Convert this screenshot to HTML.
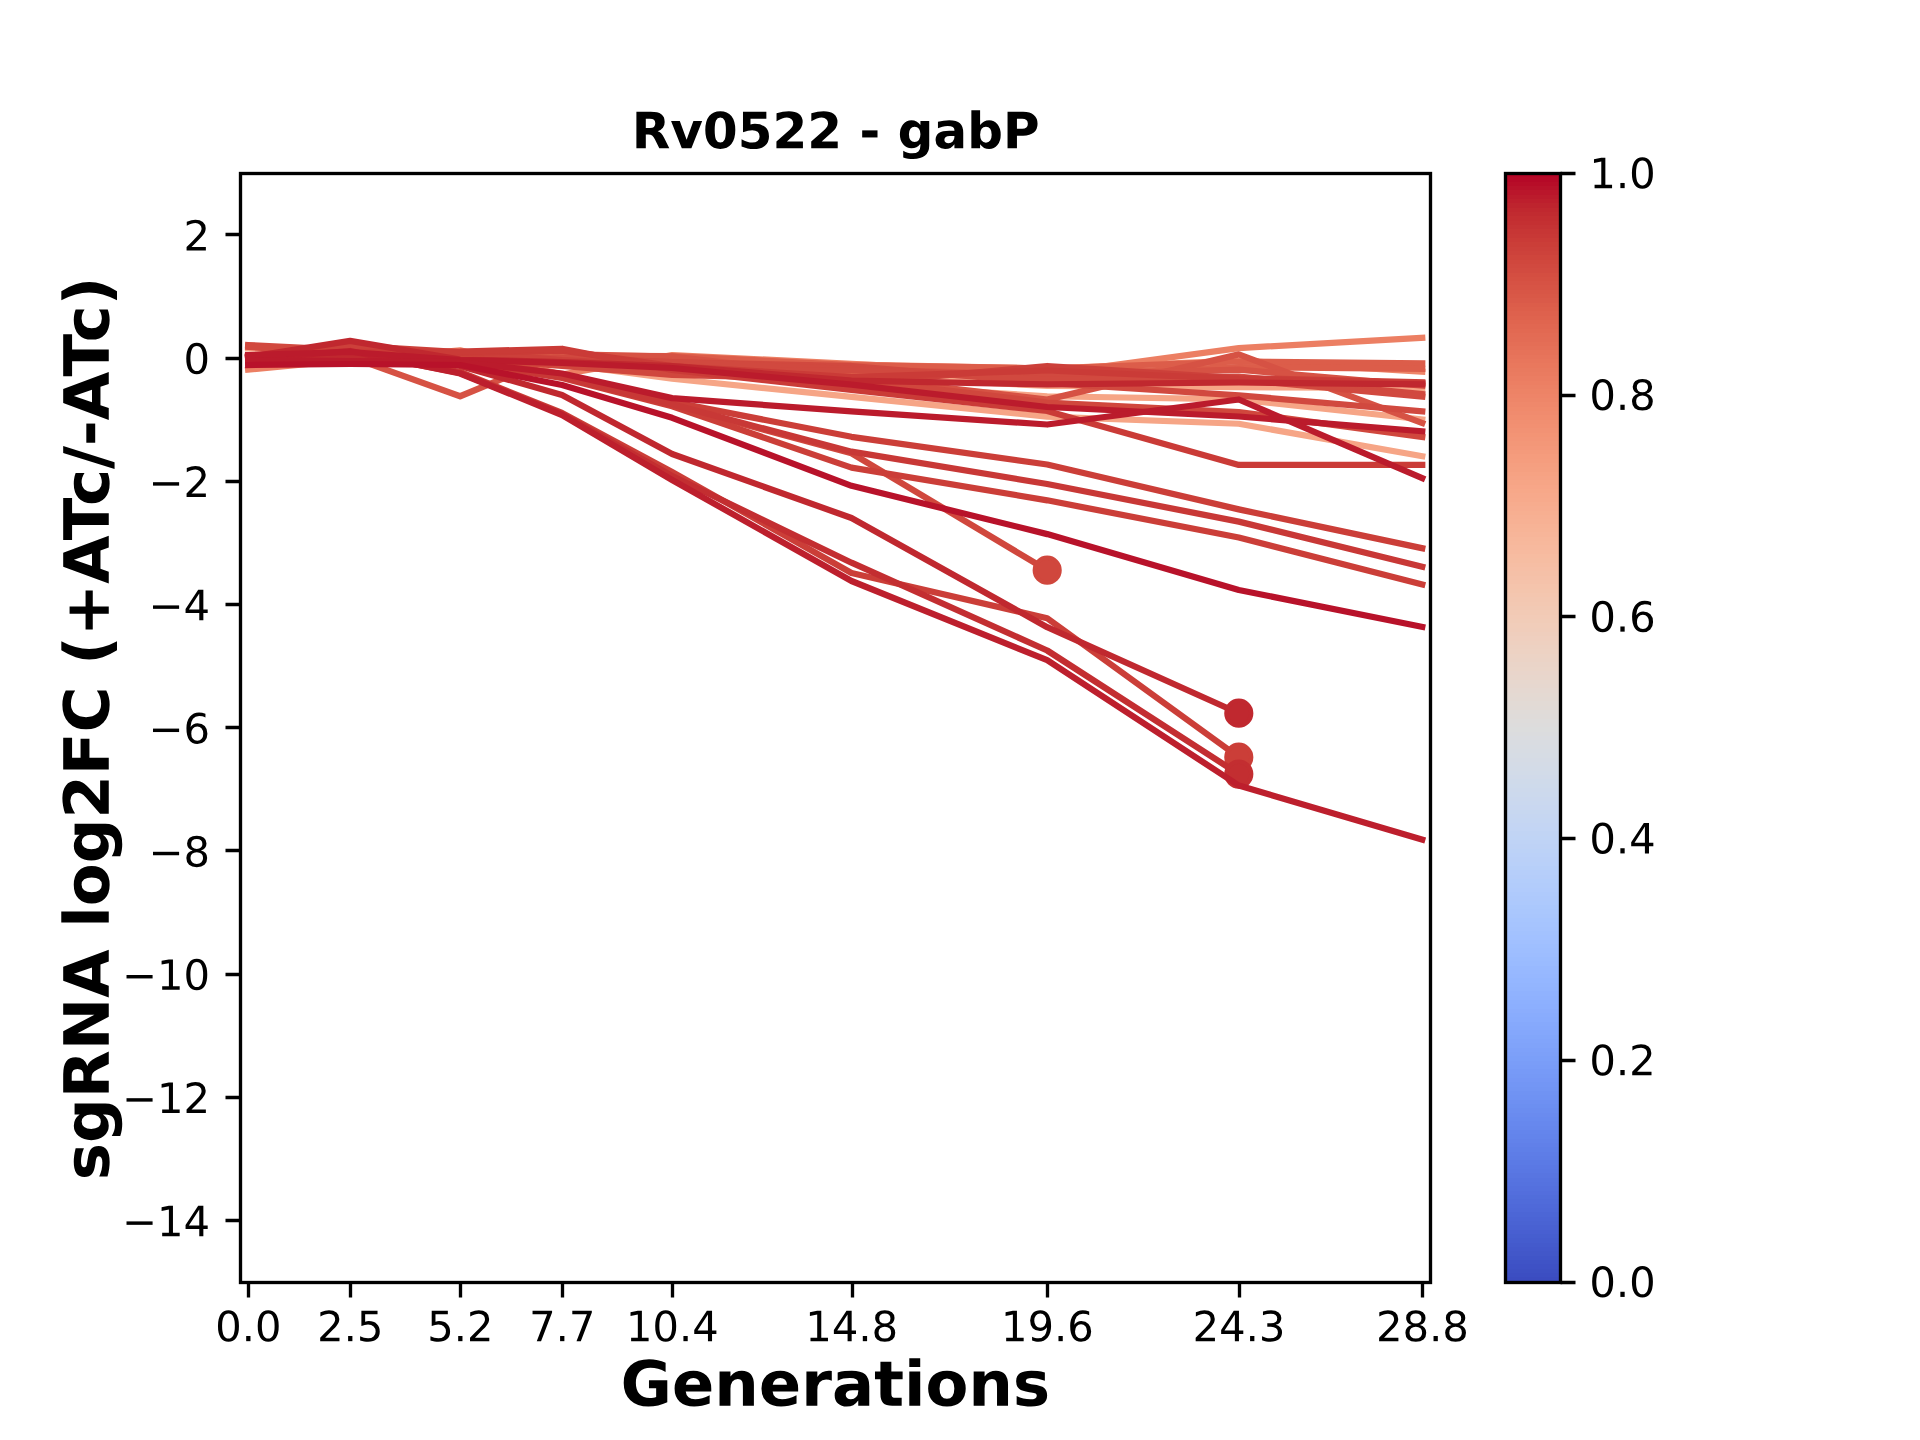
<!DOCTYPE html>
<html lang="en">
<head>
<meta charset="utf-8">
<title>Rv0522 - gabP</title>
<style>
html,body{margin:0;padding:0;background:#ffffff;}
body{width:1920px;height:1440px;overflow:hidden;font-family:"Liberation Sans",sans-serif;}
svg{display:block;position:absolute;left:0;top:0;}
#frame rect,#frame path{stroke-linejoin:miter;stroke-linecap:butt;}
</style>
</head>
<body>
<svg width="1920" height="1440" viewBox="0 0 460.8 345.6" role="img" aria-label="Rv0522 - gabP: sgRNA log2FC (+ATc/-ATc) versus Generations">
<defs>
<style type="text/css">*{stroke-linejoin: round; stroke-linecap: butt}</style>
</defs>
<g id="figure_1">
<g id="patch_1">
<path d="M 0 345.6 
L 460.8 345.6 
L 460.8 0 
L 0 0 
z
" style="fill: #ffffff"/>
</g>
<g id="axes_1">
<g id="patch_2">
<path d="M 57.6 307.584 
L 343.296 307.584 
L 343.296 41.472 
L 57.6 41.472 
z
" style="fill: #ffffff"/>
</g>
<g id="matplotlib.axis_1">
<g id="xtick_1">
<g id="text_1"><title>0.0</title><g transform="translate(0.048 -0.3) translate(51.605259 322.182437) scale(0.1 -0.1)">
<defs>
<path id="DejaVuSans-30" d="M 2034 4250 
Q 1547 4250 1301 3770 
Q 1056 3291 1056 2328 
Q 1056 1369 1301 889 
Q 1547 409 2034 409 
Q 2525 409 2770 889 
Q 3016 1369 3016 2328 
Q 3016 3291 2770 3770 
Q 2525 4250 2034 4250 
z
M 2034 4750 
Q 2819 4750 3233 4129 
Q 3647 3509 3647 2328 
Q 3647 1150 3233 529 
Q 2819 -91 2034 -91 
Q 1250 -91 836 529 
Q 422 1150 422 2328 
Q 422 3509 836 4129 
Q 1250 4750 2034 4750 
z
" transform="scale(0.015625)"/>
<path id="DejaVuSans-2e" d="M 684 794 
L 1344 794 
L 1344 0 
L 684 0 
L 684 794 
z
" transform="scale(0.015625)"/>
</defs>
<use href="#DejaVuSans-30"/>
<use href="#DejaVuSans-2e" transform="translate(63.623047 0)"/>
<use href="#DejaVuSans-30" transform="translate(95.410156 0)"/>
</g>
</g>
</g>
<g id="xtick_2">
<g id="text_2"><title>2.5</title><g transform="translate(0.048 -0.3) translate(76.065533 322.182437) scale(0.1 -0.1)">
<defs>
<path id="DejaVuSans-32" d="M 1228 531 
L 3431 531 
L 3431 0 
L 469 0 
L 469 531 
Q 828 903 1448 1529 
Q 2069 2156 2228 2338 
Q 2531 2678 2651 2914 
Q 2772 3150 2772 3378 
Q 2772 3750 2511 3984 
Q 2250 4219 1831 4219 
Q 1534 4219 1204 4116 
Q 875 4013 500 3803 
L 500 4441 
Q 881 4594 1212 4672 
Q 1544 4750 1819 4750 
Q 2544 4750 2975 4387 
Q 3406 4025 3406 3419 
Q 3406 3131 3298 2873 
Q 3191 2616 2906 2266 
Q 2828 2175 2409 1742 
Q 1991 1309 1228 531 
z
" transform="scale(0.015625)"/>
<path id="DejaVuSans-35" d="M 691 4666 
L 3169 4666 
L 3169 4134 
L 1269 4134 
L 1269 2991 
Q 1406 3038 1543 3061 
Q 1681 3084 1819 3084 
Q 2600 3084 3056 2656 
Q 3513 2228 3513 1497 
Q 3513 744 3044 326 
Q 2575 -91 1722 -91 
Q 1428 -91 1123 -41 
Q 819 9 494 109 
L 494 744 
Q 775 591 1075 516 
Q 1375 441 1709 441 
Q 2250 441 2565 725 
Q 2881 1009 2881 1497 
Q 2881 1984 2565 2268 
Q 2250 2553 1709 2553 
Q 1456 2553 1204 2497 
Q 953 2441 691 2322 
L 691 4666 
z
" transform="scale(0.015625)"/>
</defs>
<use href="#DejaVuSans-32"/>
<use href="#DejaVuSans-2e" transform="translate(63.623047 0)"/>
<use href="#DejaVuSans-35" transform="translate(95.410156 0)"/>
</g>
</g>
</g>
<g id="xtick_3">
<g id="text_3"><title>5.2</title><g transform="translate(0.048 -0.3) translate(102.482629 322.182437) scale(0.1 -0.1)">
<use href="#DejaVuSans-35"/>
<use href="#DejaVuSans-2e" transform="translate(63.623047 0)"/>
<use href="#DejaVuSans-32" transform="translate(95.410156 0)"/>
</g>
</g>
</g>
<g id="xtick_4">
<g id="text_4"><title>7.7</title><g transform="translate(0.048 -0.3) translate(126.942903 322.182437) scale(0.1 -0.1)">
<defs>
<path id="DejaVuSans-37" d="M 525 4666 
L 3525 4666 
L 3525 4397 
L 1831 0 
L 1172 0 
L 2766 4134 
L 525 4134 
L 525 4666 
z
" transform="scale(0.015625)"/>
</defs>
<use href="#DejaVuSans-37"/>
<use href="#DejaVuSans-2e" transform="translate(63.623047 0)"/>
<use href="#DejaVuSans-37" transform="translate(95.410156 0)"/>
</g>
</g>
</g>
<g id="xtick_5">
<g id="text_5"><title>10.4</title><g transform="translate(0.048 -0.3) translate(150.178749 322.182437) scale(0.1 -0.1)">
<defs>
<path id="DejaVuSans-31" d="M 794 531 
L 1825 531 
L 1825 4091 
L 703 3866 
L 703 4441 
L 1819 4666 
L 2450 4666 
L 2450 531 
L 3481 531 
L 3481 0 
L 794 0 
L 794 531 
z
" transform="scale(0.015625)"/>
<path id="DejaVuSans-34" d="M 2419 4116 
L 825 1625 
L 2419 1625 
L 2419 4116 
z
M 2253 4666 
L 3047 4666 
L 3047 1625 
L 3713 1625 
L 3713 1100 
L 3047 1100 
L 3047 0 
L 2419 0 
L 2419 1100 
L 313 1100 
L 313 1709 
L 2253 4666 
z
" transform="scale(0.015625)"/>
</defs>
<use href="#DejaVuSans-31"/>
<use href="#DejaVuSans-30" transform="translate(63.623047 0)"/>
<use href="#DejaVuSans-2e" transform="translate(127.246094 0)"/>
<use href="#DejaVuSans-34" transform="translate(159.033203 0)"/>
</g>
</g>
</g>
<g id="xtick_6">
<g id="text_6"><title>14.8</title><g transform="translate(0.048 -0.3) translate(193.228831 322.182437) scale(0.1 -0.1)">
<defs>
<path id="DejaVuSans-38" d="M 2034 2216 
Q 1584 2216 1326 1975 
Q 1069 1734 1069 1313 
Q 1069 891 1326 650 
Q 1584 409 2034 409 
Q 2484 409 2743 651 
Q 3003 894 3003 1313 
Q 3003 1734 2745 1975 
Q 2488 2216 2034 2216 
z
M 1403 2484 
Q 997 2584 770 2862 
Q 544 3141 544 3541 
Q 544 4100 942 4425 
Q 1341 4750 2034 4750 
Q 2731 4750 3128 4425 
Q 3525 4100 3525 3541 
Q 3525 3141 3298 2862 
Q 3072 2584 2669 2484 
Q 3125 2378 3379 2068 
Q 3634 1759 3634 1313 
Q 3634 634 3220 271 
Q 2806 -91 2034 -91 
Q 1263 -91 848 271 
Q 434 634 434 1313 
Q 434 1759 690 2068 
Q 947 2378 1403 2484 
z
M 1172 3481 
Q 1172 3119 1398 2916 
Q 1625 2713 2034 2713 
Q 2441 2713 2670 2916 
Q 2900 3119 2900 3481 
Q 2900 3844 2670 4047 
Q 2441 4250 2034 4250 
Q 1625 4250 1398 4047 
Q 1172 3844 1172 3481 
z
" transform="scale(0.015625)"/>
</defs>
<use href="#DejaVuSans-31"/>
<use href="#DejaVuSans-34" transform="translate(63.623047 0)"/>
<use href="#DejaVuSans-2e" transform="translate(127.246094 0)"/>
<use href="#DejaVuSans-38" transform="translate(159.033203 0)"/>
</g>
</g>
</g>
<g id="xtick_7">
<g id="text_7"><title>19.6</title><g transform="translate(0.048 -0.3) translate(240.192557 322.182437) scale(0.1 -0.1)">
<defs>
<path id="DejaVuSans-39" d="M 703 97 
L 703 672 
Q 941 559 1184 500 
Q 1428 441 1663 441 
Q 2288 441 2617 861 
Q 2947 1281 2994 2138 
Q 2813 1869 2534 1725 
Q 2256 1581 1919 1581 
Q 1219 1581 811 2004 
Q 403 2428 403 3163 
Q 403 3881 828 4315 
Q 1253 4750 1959 4750 
Q 2769 4750 3195 4129 
Q 3622 3509 3622 2328 
Q 3622 1225 3098 567 
Q 2575 -91 1691 -91 
Q 1453 -91 1209 -44 
Q 966 3 703 97 
z
M 1959 2075 
Q 2384 2075 2632 2365 
Q 2881 2656 2881 3163 
Q 2881 3666 2632 3958 
Q 2384 4250 1959 4250 
Q 1534 4250 1286 3958 
Q 1038 3666 1038 3163 
Q 1038 2656 1286 2365 
Q 1534 2075 1959 2075 
z
" transform="scale(0.015625)"/>
<path id="DejaVuSans-36" d="M 2113 2584 
Q 1688 2584 1439 2293 
Q 1191 2003 1191 1497 
Q 1191 994 1439 701 
Q 1688 409 2113 409 
Q 2538 409 2786 701 
Q 3034 994 3034 1497 
Q 3034 2003 2786 2293 
Q 2538 2584 2113 2584 
z
M 3366 4563 
L 3366 3988 
Q 3128 4100 2886 4159 
Q 2644 4219 2406 4219 
Q 1781 4219 1451 3797 
Q 1122 3375 1075 2522 
Q 1259 2794 1537 2939 
Q 1816 3084 2150 3084 
Q 2853 3084 3261 2657 
Q 3669 2231 3669 1497 
Q 3669 778 3244 343 
Q 2819 -91 2113 -91 
Q 1303 -91 875 529 
Q 447 1150 447 2328 
Q 447 3434 972 4092 
Q 1497 4750 2381 4750 
Q 2619 4750 2861 4703 
Q 3103 4656 3366 4563 
z
" transform="scale(0.015625)"/>
</defs>
<use href="#DejaVuSans-31"/>
<use href="#DejaVuSans-39" transform="translate(63.623047 0)"/>
<use href="#DejaVuSans-2e" transform="translate(127.246094 0)"/>
<use href="#DejaVuSans-36" transform="translate(159.033203 0)"/>
</g>
</g>
</g>
<g id="xtick_8">
<g id="text_8"><title>24.3</title><g transform="translate(0.048 -0.3) translate(286.177872 322.182437) scale(0.1 -0.1)">
<defs>
<path id="DejaVuSans-33" d="M 2597 2516 
Q 3050 2419 3304 2112 
Q 3559 1806 3559 1356 
Q 3559 666 3084 287 
Q 2609 -91 1734 -91 
Q 1441 -91 1130 -33 
Q 819 25 488 141 
L 488 750 
Q 750 597 1062 519 
Q 1375 441 1716 441 
Q 2309 441 2620 675 
Q 2931 909 2931 1356 
Q 2931 1769 2642 2001 
Q 2353 2234 1838 2234 
L 1294 2234 
L 1294 2753 
L 1863 2753 
Q 2328 2753 2575 2939 
Q 2822 3125 2822 3475 
Q 2822 3834 2567 4026 
Q 2313 4219 1838 4219 
Q 1578 4219 1281 4162 
Q 984 4106 628 3988 
L 628 4550 
Q 988 4650 1302 4700 
Q 1616 4750 1894 4750 
Q 2613 4750 3031 4423 
Q 3450 4097 3450 3541 
Q 3450 3153 3228 2886 
Q 3006 2619 2597 2516 
z
" transform="scale(0.015625)"/>
</defs>
<use href="#DejaVuSans-32"/>
<use href="#DejaVuSans-34" transform="translate(63.623047 0)"/>
<use href="#DejaVuSans-2e" transform="translate(127.246094 0)"/>
<use href="#DejaVuSans-33" transform="translate(159.033203 0)"/>
</g>
</g>
</g>
<g id="xtick_9">
<g id="text_9"><title>28.8</title><g transform="translate(0.048 -0.3) translate(330.206366 322.182437) scale(0.1 -0.1)">
<use href="#DejaVuSans-32"/>
<use href="#DejaVuSans-38" transform="translate(63.623047 0)"/>
<use href="#DejaVuSans-2e" transform="translate(127.246094 0)"/>
<use href="#DejaVuSans-38" transform="translate(159.033203 0)"/>
</g>
</g>
</g>
<g id="text_10"><title>Generations</title><g transform="translate(0.036 0) translate(148.907766 337.359781) scale(0.15 -0.15)">
<defs>
<path id="DejaVuSans-Bold-47" d="M 4781 347 
Q 4331 128 3847 18 
Q 3363 -91 2847 -91 
Q 1681 -91 1000 561 
Q 319 1213 319 2328 
Q 319 3456 1012 4103 
Q 1706 4750 2913 4750 
Q 3378 4750 3804 4662 
Q 4231 4575 4609 4403 
L 4609 3438 
Q 4219 3659 3833 3768 
Q 3447 3878 3059 3878 
Q 2341 3878 1952 3476 
Q 1563 3075 1563 2328 
Q 1563 1588 1938 1184 
Q 2313 781 3003 781 
Q 3191 781 3352 804 
Q 3513 828 3641 878 
L 3641 1784 
L 2906 1784 
L 2906 2591 
L 4781 2591 
L 4781 347 
z
" transform="scale(0.015625)"/>
<path id="DejaVuSans-Bold-65" d="M 4031 1759 
L 4031 1441 
L 1416 1441 
Q 1456 1047 1700 850 
Q 1944 653 2381 653 
Q 2734 653 3104 758 
Q 3475 863 3866 1075 
L 3866 213 
Q 3469 63 3072 -14 
Q 2675 -91 2278 -91 
Q 1328 -91 801 392 
Q 275 875 275 1747 
Q 275 2603 792 3093 
Q 1309 3584 2216 3584 
Q 3041 3584 3536 3087 
Q 4031 2591 4031 1759 
z
M 2881 2131 
Q 2881 2450 2695 2645 
Q 2509 2841 2209 2841 
Q 1884 2841 1681 2658 
Q 1478 2475 1428 2131 
L 2881 2131 
z
" transform="scale(0.015625)"/>
<path id="DejaVuSans-Bold-6e" d="M 4056 2131 
L 4056 0 
L 2931 0 
L 2931 347 
L 2931 1631 
Q 2931 2084 2911 2256 
Q 2891 2428 2841 2509 
Q 2775 2619 2662 2680 
Q 2550 2741 2406 2741 
Q 2056 2741 1856 2470 
Q 1656 2200 1656 1722 
L 1656 0 
L 538 0 
L 538 3500 
L 1656 3500 
L 1656 2988 
Q 1909 3294 2193 3439 
Q 2478 3584 2822 3584 
Q 3428 3584 3742 3212 
Q 4056 2841 4056 2131 
z
" transform="scale(0.015625)"/>
<path id="DejaVuSans-Bold-72" d="M 3138 2547 
Q 2991 2616 2845 2648 
Q 2700 2681 2553 2681 
Q 2122 2681 1889 2404 
Q 1656 2128 1656 1613 
L 1656 0 
L 538 0 
L 538 3500 
L 1656 3500 
L 1656 2925 
Q 1872 3269 2151 3426 
Q 2431 3584 2822 3584 
Q 2878 3584 2943 3579 
Q 3009 3575 3134 3559 
L 3138 2547 
z
" transform="scale(0.015625)"/>
<path id="DejaVuSans-Bold-61" d="M 2106 1575 
Q 1756 1575 1579 1456 
Q 1403 1338 1403 1106 
Q 1403 894 1545 773 
Q 1688 653 1941 653 
Q 2256 653 2472 879 
Q 2688 1106 2688 1447 
L 2688 1575 
L 2106 1575 
z
M 3816 1997 
L 3816 0 
L 2688 0 
L 2688 519 
Q 2463 200 2181 54 
Q 1900 -91 1497 -91 
Q 953 -91 614 226 
Q 275 544 275 1050 
Q 275 1666 698 1953 
Q 1122 2241 2028 2241 
L 2688 2241 
L 2688 2328 
Q 2688 2594 2478 2717 
Q 2269 2841 1825 2841 
Q 1466 2841 1156 2769 
Q 847 2697 581 2553 
L 581 3406 
Q 941 3494 1303 3539 
Q 1666 3584 2028 3584 
Q 2975 3584 3395 3211 
Q 3816 2838 3816 1997 
z
" transform="scale(0.015625)"/>
<path id="DejaVuSans-Bold-74" d="M 1759 4494 
L 1759 3500 
L 2913 3500 
L 2913 2700 
L 1759 2700 
L 1759 1216 
Q 1759 972 1856 886 
Q 1953 800 2241 800 
L 2816 800 
L 2816 0 
L 1856 0 
Q 1194 0 917 276 
Q 641 553 641 1216 
L 641 2700 
L 84 2700 
L 84 3500 
L 641 3500 
L 641 4494 
L 1759 4494 
z
" transform="scale(0.015625)"/>
<path id="DejaVuSans-Bold-69" d="M 538 3500 
L 1656 3500 
L 1656 0 
L 538 0 
L 538 3500 
z
M 538 4863 
L 1656 4863 
L 1656 3950 
L 538 3950 
L 538 4863 
z
" transform="scale(0.015625)"/>
<path id="DejaVuSans-Bold-6f" d="M 2203 2784 
Q 1831 2784 1636 2517 
Q 1441 2250 1441 1747 
Q 1441 1244 1636 976 
Q 1831 709 2203 709 
Q 2569 709 2762 976 
Q 2956 1244 2956 1747 
Q 2956 2250 2762 2517 
Q 2569 2784 2203 2784 
z
M 2203 3584 
Q 3106 3584 3614 3096 
Q 4122 2609 4122 1747 
Q 4122 884 3614 396 
Q 3106 -91 2203 -91 
Q 1297 -91 786 396 
Q 275 884 275 1747 
Q 275 2609 786 3096 
Q 1297 3584 2203 3584 
z
" transform="scale(0.015625)"/>
<path id="DejaVuSans-Bold-73" d="M 3272 3391 
L 3272 2541 
Q 2913 2691 2578 2766 
Q 2244 2841 1947 2841 
Q 1628 2841 1473 2761 
Q 1319 2681 1319 2516 
Q 1319 2381 1436 2309 
Q 1553 2238 1856 2203 
L 2053 2175 
Q 2913 2066 3209 1816 
Q 3506 1566 3506 1031 
Q 3506 472 3093 190 
Q 2681 -91 1863 -91 
Q 1516 -91 1145 -36 
Q 775 19 384 128 
L 384 978 
Q 719 816 1070 734 
Q 1422 653 1784 653 
Q 2113 653 2278 743 
Q 2444 834 2444 1013 
Q 2444 1163 2330 1236 
Q 2216 1309 1875 1350 
L 1678 1375 
Q 931 1469 631 1722 
Q 331 1975 331 2491 
Q 331 3047 712 3315 
Q 1094 3584 1881 3584 
Q 2191 3584 2531 3537 
Q 2872 3491 3272 3391 
z
" transform="scale(0.015625)"/>
</defs>
<use href="#DejaVuSans-Bold-47"/>
<use href="#DejaVuSans-Bold-65" transform="translate(82.080078 0)"/>
<use href="#DejaVuSans-Bold-6e" transform="translate(149.902344 0)"/>
<use href="#DejaVuSans-Bold-65" transform="translate(221.09375 0)"/>
<use href="#DejaVuSans-Bold-72" transform="translate(288.916016 0)"/>
<use href="#DejaVuSans-Bold-61" transform="translate(338.232422 0)"/>
<use href="#DejaVuSans-Bold-74" transform="translate(405.712891 0)"/>
<use href="#DejaVuSans-Bold-69" transform="translate(453.515625 0)"/>
<use href="#DejaVuSans-Bold-6f" transform="translate(487.792969 0)"/>
<use href="#DejaVuSans-Bold-6e" transform="translate(556.494141 0)"/>
<use href="#DejaVuSans-Bold-73" transform="translate(627.685547 0)"/>
</g>
</g>
</g>
<g id="matplotlib.axis_2">
<g id="ytick_1">
<g id="text_11"><title>−14</title><g transform="translate(-0.192 0.084) translate(29.495313 296.599219) scale(0.1 -0.1)">
<defs>
<path id="DejaVuSans-2212" d="M 678 2272 
L 4684 2272 
L 4684 1741 
L 678 1741 
L 678 2272 
z
" transform="scale(0.015625)"/>
</defs>
<use href="#DejaVuSans-2212"/>
<use href="#DejaVuSans-31" transform="translate(83.789062 0)"/>
<use href="#DejaVuSans-34" transform="translate(147.412109 0)"/>
</g>
</g>
</g>
<g id="ytick_2">
<g id="text_12"><title>−12</title><g transform="translate(-0.192 0.084) translate(29.495313 267.031219) scale(0.1 -0.1)">
<use href="#DejaVuSans-2212"/>
<use href="#DejaVuSans-31" transform="translate(83.789062 0)"/>
<use href="#DejaVuSans-32" transform="translate(147.412109 0)"/>
</g>
</g>
</g>
<g id="ytick_3">
<g id="text_13"><title>−10</title><g transform="translate(-0.192 0.084) translate(29.495313 237.463219) scale(0.1 -0.1)">
<use href="#DejaVuSans-2212"/>
<use href="#DejaVuSans-31" transform="translate(83.789062 0)"/>
<use href="#DejaVuSans-30" transform="translate(147.412109 0)"/>
</g>
</g>
</g>
<g id="ytick_4">
<g id="text_14"><title>−8</title><g transform="translate(-0.192 0.084) translate(35.857813 207.895219) scale(0.1 -0.1)">
<use href="#DejaVuSans-2212"/>
<use href="#DejaVuSans-38" transform="translate(83.789062 0)"/>
</g>
</g>
</g>
<g id="ytick_5">
<g id="text_15"><title>−6</title><g transform="translate(-0.192 0.084) translate(35.857813 178.327219) scale(0.1 -0.1)">
<use href="#DejaVuSans-2212"/>
<use href="#DejaVuSans-36" transform="translate(83.789062 0)"/>
</g>
</g>
</g>
<g id="ytick_6">
<g id="text_16"><title>−4</title><g transform="translate(-0.192 0.084) translate(35.857813 148.759219) scale(0.1 -0.1)">
<use href="#DejaVuSans-2212"/>
<use href="#DejaVuSans-34" transform="translate(83.789062 0)"/>
</g>
</g>
</g>
<g id="ytick_7">
<g id="text_17"><title>−2</title><g transform="translate(-0.192 0.084) translate(35.857813 119.191219) scale(0.1 -0.1)">
<use href="#DejaVuSans-2212"/>
<use href="#DejaVuSans-32" transform="translate(83.789062 0)"/>
</g>
</g>
</g>
<g id="ytick_8">
<g id="text_18"><title>0</title><g transform="translate(-0.192 0.084) translate(44.2375 89.623219) scale(0.1 -0.1)">
<use href="#DejaVuSans-30"/>
</g>
</g>
</g>
<g id="ytick_9">
<g id="text_19"><title>2</title><g transform="translate(-0.192 0.084) translate(44.2375 60.055219) scale(0.1 -0.1)">
<use href="#DejaVuSans-32"/>
</g>
</g>
</g>
<g id="text_20"><title>sgRNA log2FC (+ATc/-ATc)</title><g transform="translate(-0.156 0.3) translate(26.258594 282.952219) rotate(-90) scale(0.15 -0.15)">
<defs>
<path id="DejaVuSans-Bold-67" d="M 2919 594 
Q 2688 288 2409 144 
Q 2131 0 1766 0 
Q 1125 0 706 504 
Q 288 1009 288 1791 
Q 288 2575 706 3076 
Q 1125 3578 1766 3578 
Q 2131 3578 2409 3434 
Q 2688 3291 2919 2981 
L 2919 3500 
L 4044 3500 
L 4044 353 
Q 4044 -491 3511 -936 
Q 2978 -1381 1966 -1381 
Q 1638 -1381 1331 -1331 
Q 1025 -1281 716 -1178 
L 716 -306 
Q 1009 -475 1290 -558 
Q 1572 -641 1856 -641 
Q 2406 -641 2662 -400 
Q 2919 -159 2919 353 
L 2919 594 
z
M 2181 2772 
Q 1834 2772 1640 2515 
Q 1447 2259 1447 1791 
Q 1447 1309 1634 1061 
Q 1822 813 2181 813 
Q 2531 813 2725 1069 
Q 2919 1325 2919 1791 
Q 2919 2259 2725 2515 
Q 2531 2772 2181 2772 
z
" transform="scale(0.015625)"/>
<path id="DejaVuSans-Bold-52" d="M 2297 2597 
Q 2675 2597 2839 2737 
Q 3003 2878 3003 3200 
Q 3003 3519 2839 3656 
Q 2675 3794 2297 3794 
L 1791 3794 
L 1791 2597 
L 2297 2597 
z
M 1791 1766 
L 1791 0 
L 588 0 
L 588 4666 
L 2425 4666 
Q 3347 4666 3776 4356 
Q 4206 4047 4206 3378 
Q 4206 2916 3982 2619 
Q 3759 2322 3309 2181 
Q 3556 2125 3751 1926 
Q 3947 1728 4147 1325 
L 4800 0 
L 3519 0 
L 2950 1159 
Q 2778 1509 2601 1637 
Q 2425 1766 2131 1766 
L 1791 1766 
z
" transform="scale(0.015625)"/>
<path id="DejaVuSans-Bold-4e" d="M 588 4666 
L 1931 4666 
L 3628 1466 
L 3628 4666 
L 4769 4666 
L 4769 0 
L 3425 0 
L 1728 3200 
L 1728 0 
L 588 0 
L 588 4666 
z
" transform="scale(0.015625)"/>
<path id="DejaVuSans-Bold-41" d="M 3419 850 
L 1538 850 
L 1241 0 
L 31 0 
L 1759 4666 
L 3194 4666 
L 4922 0 
L 3713 0 
L 3419 850 
z
M 1838 1716 
L 3116 1716 
L 2478 3572 
L 1838 1716 
z
" transform="scale(0.015625)"/>
<path id="DejaVuSans-Bold-20" transform="scale(0.015625)"/>
<path id="DejaVuSans-Bold-6c" d="M 538 4863 
L 1656 4863 
L 1656 0 
L 538 0 
L 538 4863 
z
" transform="scale(0.015625)"/>
<path id="DejaVuSans-Bold-32" d="M 1844 884 
L 3897 884 
L 3897 0 
L 506 0 
L 506 884 
L 2209 2388 
Q 2438 2594 2547 2791 
Q 2656 2988 2656 3200 
Q 2656 3528 2436 3728 
Q 2216 3928 1850 3928 
Q 1569 3928 1234 3808 
Q 900 3688 519 3450 
L 519 4475 
Q 925 4609 1322 4679 
Q 1719 4750 2100 4750 
Q 2938 4750 3402 4381 
Q 3866 4013 3866 3353 
Q 3866 2972 3669 2642 
Q 3472 2313 2841 1759 
L 1844 884 
z
" transform="scale(0.015625)"/>
<path id="DejaVuSans-Bold-46" d="M 588 4666 
L 3834 4666 
L 3834 3756 
L 1791 3756 
L 1791 2888 
L 3713 2888 
L 3713 1978 
L 1791 1978 
L 1791 0 
L 588 0 
L 588 4666 
z
" transform="scale(0.015625)"/>
<path id="DejaVuSans-Bold-43" d="M 4288 256 
Q 3956 84 3597 -3 
Q 3238 -91 2847 -91 
Q 1681 -91 1000 561 
Q 319 1213 319 2328 
Q 319 3447 1000 4098 
Q 1681 4750 2847 4750 
Q 3238 4750 3597 4662 
Q 3956 4575 4288 4403 
L 4288 3438 
Q 3953 3666 3628 3772 
Q 3303 3878 2944 3878 
Q 2300 3878 1931 3465 
Q 1563 3053 1563 2328 
Q 1563 1606 1931 1193 
Q 2300 781 2944 781 
Q 3303 781 3628 887 
Q 3953 994 4288 1222 
L 4288 256 
z
" transform="scale(0.015625)"/>
<path id="DejaVuSans-Bold-28" d="M 2413 -844 
L 1484 -844 
Q 1006 -72 778 623 
Q 550 1319 550 2003 
Q 550 2688 779 3389 
Q 1009 4091 1484 4856 
L 2413 4856 
Q 2013 4116 1813 3408 
Q 1613 2700 1613 2009 
Q 1613 1319 1811 609 
Q 2009 -100 2413 -844 
z
" transform="scale(0.015625)"/>
<path id="DejaVuSans-Bold-2b" d="M 3053 4013 
L 3053 2375 
L 4684 2375 
L 4684 1638 
L 3053 1638 
L 3053 0 
L 2309 0 
L 2309 1638 
L 678 1638 
L 678 2375 
L 2309 2375 
L 2309 4013 
L 3053 4013 
z
" transform="scale(0.015625)"/>
<path id="DejaVuSans-Bold-54" d="M 31 4666 
L 4331 4666 
L 4331 3756 
L 2784 3756 
L 2784 0 
L 1581 0 
L 1581 3756 
L 31 3756 
L 31 4666 
z
" transform="scale(0.015625)"/>
<path id="DejaVuSans-Bold-63" d="M 3366 3391 
L 3366 2478 
Q 3138 2634 2908 2709 
Q 2678 2784 2431 2784 
Q 1963 2784 1702 2511 
Q 1441 2238 1441 1747 
Q 1441 1256 1702 982 
Q 1963 709 2431 709 
Q 2694 709 2930 787 
Q 3166 866 3366 1019 
L 3366 103 
Q 3103 6 2833 -42 
Q 2563 -91 2291 -91 
Q 1344 -91 809 395 
Q 275 881 275 1747 
Q 275 2613 809 3098 
Q 1344 3584 2291 3584 
Q 2566 3584 2833 3536 
Q 3100 3488 3366 3391 
z
" transform="scale(0.015625)"/>
<path id="DejaVuSans-Bold-2f" d="M 1644 4666 
L 2338 4666 
L 691 -594 
L 0 -594 
L 1644 4666 
z
" transform="scale(0.015625)"/>
<path id="DejaVuSans-Bold-2d" d="M 347 2297 
L 2309 2297 
L 2309 1388 
L 347 1388 
L 347 2297 
z
" transform="scale(0.015625)"/>
<path id="DejaVuSans-Bold-29" d="M 513 -844 
Q 913 -100 1113 609 
Q 1313 1319 1313 2009 
Q 1313 2700 1113 3408 
Q 913 4116 513 4856 
L 1441 4856 
Q 1916 4091 2145 3389 
Q 2375 2688 2375 2003 
Q 2375 1319 2147 623 
Q 1919 -72 1441 -844 
L 513 -844 
z
" transform="scale(0.015625)"/>
</defs>
<use href="#DejaVuSans-Bold-73"/>
<use href="#DejaVuSans-Bold-67" transform="translate(59.521484 0)"/>
<use href="#DejaVuSans-Bold-52" transform="translate(131.103516 0)"/>
<use href="#DejaVuSans-Bold-4e" transform="translate(208.105469 0)"/>
<use href="#DejaVuSans-Bold-41" transform="translate(291.796875 0)"/>
<use href="#DejaVuSans-Bold-20" transform="translate(369.189453 0)"/>
<use href="#DejaVuSans-Bold-6c" transform="translate(404.003906 0)"/>
<use href="#DejaVuSans-Bold-6f" transform="translate(438.28125 0)"/>
<use href="#DejaVuSans-Bold-67" transform="translate(506.982422 0)"/>
<use href="#DejaVuSans-Bold-32" transform="translate(578.564453 0)"/>
<use href="#DejaVuSans-Bold-46" transform="translate(648.144531 0)"/>
<use href="#DejaVuSans-Bold-43" transform="translate(716.455078 0)"/>
<use href="#DejaVuSans-Bold-20" transform="translate(789.84375 0)"/>
<use href="#DejaVuSans-Bold-28" transform="translate(824.658203 0)"/>
<use href="#DejaVuSans-Bold-2b" transform="translate(870.361328 0)"/>
<use href="#DejaVuSans-Bold-41" transform="translate(954.150391 0)"/>
<use href="#DejaVuSans-Bold-54" transform="translate(1023.792969 0)"/>
<use href="#DejaVuSans-Bold-63" transform="translate(1078.755859 0)"/>
<use href="#DejaVuSans-Bold-2f" transform="translate(1138.033203 0)"/>
<use href="#DejaVuSans-Bold-2d" transform="translate(1174.556641 0)"/>
<use href="#DejaVuSans-Bold-41" transform="translate(1216.060547 0)"/>
<use href="#DejaVuSans-Bold-54" transform="translate(1285.703125 0)"/>
<use href="#DejaVuSans-Bold-63" transform="translate(1340.666016 0)"/>
<use href="#DejaVuSans-Bold-29" transform="translate(1399.943359 0)"/>
</g>
</g>
</g>
<g id="line2d_19">
<path d="M 59.556822 83.616 
L 84.017096 84.48 
L 110.434192 85.92 
L 134.894466 87.36 
L 161.311562 90.9 
L 204.361644 95.256 
L 251.32537 99.984 
L 297.310685 101.7 
L 341.339178 109.5 
" clip-path="url(#p9944d8ce5a)" style="fill: none; stroke: #f6a586; stroke-width: 1.5; stroke-linecap: square"/>
</g>
<g id="line2d_20">
<path d="M 59.556822 86.88 
L 84.017096 85.92 
L 110.434192 86.4 
L 134.894466 86.4 
L 161.311562 87.84 
L 204.361644 92.232 
L 251.32537 95.1 
L 297.310685 95.856 
L 341.339178 100.656 
" clip-path="url(#p9944d8ce5a)" style="fill: none; stroke: #f6a586; stroke-width: 1.5; stroke-linecap: square"/>
</g>
<g id="line2d_21">
<path d="M 59.556822 86.4 
L 84.017096 85.68 
L 110.434192 86.16 
L 134.894466 85.92 
L 161.311562 87.36 
L 204.361644 90.12 
L 251.32537 92.64 
L 297.310685 92.928 
L 341.339178 93.072 
" clip-path="url(#p9944d8ce5a)" style="fill: none; stroke: #f6a586; stroke-width: 1.5; stroke-linecap: square"/>
</g>
<g id="line2d_22">
<path d="M 59.556822 85.92 
L 84.017096 85.44 
L 110.434192 85.68 
L 134.894466 85.92 
L 161.311562 86.64 
L 204.361644 87.48 
L 251.32537 88.44 
L 297.310685 86.52 
L 341.339178 89.184 
" clip-path="url(#p9944d8ce5a)" style="fill: none; stroke: #ee8468; stroke-width: 1.5; stroke-linecap: square"/>
</g>
<g id="line2d_23">
<path d="M 59.556822 88.728 
L 84.017096 86.4 
L 110.434192 84.072 
L 134.894466 89.88 
L 161.311562 85.248 
L 204.361644 87.3 
L 251.32537 89.76 
L 297.310685 83.544 
L 341.339178 81.072 
" clip-path="url(#p9944d8ce5a)" style="fill: none; stroke: #ec7f63; stroke-width: 1.5; stroke-linecap: square"/>
</g>
<g id="line2d_24">
<path d="M 59.556822 85.68 
L 84.017096 85.2 
L 110.434192 85.44 
L 134.894466 85.32 
L 161.311562 85.488 
L 204.361644 87.6 
L 251.32537 88.44 
L 297.310685 86.76 
L 341.339178 87.216 
" clip-path="url(#p9944d8ce5a)" style="fill: none; stroke: #dc5d4a; stroke-width: 1.5; stroke-linecap: square"/>
</g>
<g id="line2d_25">
<path d="M 59.556822 86.16 
L 84.017096 85.44 
L 110.434192 85.92 
L 134.894466 85.56 
L 161.311562 86.4 
L 204.361644 90 
L 251.32537 89.76 
L 297.310685 88.08 
L 341.339178 88.5 
" clip-path="url(#p9944d8ce5a)" style="fill: none; stroke: #dc5d4a; stroke-width: 1.5; stroke-linecap: square"/>
</g>
<g id="line2d_26">
<path d="M 59.556822 85.44 
L 84.017096 85.656 
L 110.434192 95.1 
L 134.894466 84.96 
L 161.311562 85.56 
L 204.361644 90.48 
L 251.32537 95.904 
L 297.310685 85.056 
L 341.339178 101.544 
" clip-path="url(#p9944d8ce5a)" style="fill: none; stroke: #d65244; stroke-width: 1.5; stroke-linecap: square"/>
</g>
<g id="line2d_27">
<path d="M 59.556822 85.92 
L 84.017096 85.2 
L 110.434192 85.68 
L 134.894466 85.92 
L 161.311562 86.64 
L 204.361644 88.56 
L 251.32537 90 
L 297.310685 88.728 
L 341.339178 92.52 
" clip-path="url(#p9944d8ce5a)" style="fill: none; stroke: #d65244; stroke-width: 1.5; stroke-linecap: square"/>
</g>
<g id="line2d_28">
<path d="M 59.556822 82.824 
L 84.017096 84 
L 110.434192 85.44 
L 134.894466 85.92 
L 161.311562 86.88 
L 204.361644 87.84 
L 251.32537 91.92 
L 297.310685 94.872 
L 341.339178 98.7 
" clip-path="url(#p9944d8ce5a)" style="fill: none; stroke: #d1493f; stroke-width: 1.5; stroke-linecap: square"/>
</g>
<g id="line2d_29">
<path d="M 59.556822 83.256 
L 84.017096 84.96 
L 110.434192 85.68 
L 134.894466 85.92 
L 161.311562 86.88 
L 204.361644 88.56 
L 251.32537 90.48 
L 297.310685 90.408 
L 341.339178 94.584 
" clip-path="url(#p9944d8ce5a)" style="fill: none; stroke: #d1493f; stroke-width: 1.5; stroke-linecap: square"/>
</g>
<g id="line2d_30">
<path d="M 59.556822 86.16 
L 84.017096 85.44 
L 110.434192 86.16 
L 134.894466 87.6 
L 161.311562 89.52 
L 204.361644 88.8 
L 251.32537 91.08 
L 297.310685 91.08 
L 341.339178 95.184 
" clip-path="url(#p9944d8ce5a)" style="fill: none; stroke: #d1493f; stroke-width: 1.5; stroke-linecap: square"/>
</g>
<g id="line2d_31">
<path d="M 59.556822 85.92 
L 84.017096 85.2 
L 110.434192 85.92 
L 134.894466 87.84 
L 161.311562 90 
L 204.361644 90.96 
L 251.32537 96.6 
L 297.310685 98.88 
L 341.339178 104.856 
" clip-path="url(#p9944d8ce5a)" style="fill: none; stroke: #d0473d; stroke-width: 1.5; stroke-linecap: square"/>
</g>
<g id="line2d_32">
<path d="M 59.556822 85.68 
L 84.017096 84.96 
L 110.434192 86.64 
L 134.894466 90.48 
L 161.311562 97.2 
L 204.361644 108.768 
L 251.32537 136.848 
" clip-path="url(#p9944d8ce5a)" style="fill: none; stroke: #d0473d; stroke-width: 1.5; stroke-linecap: square"/>
</g>
<g id="line2d_33">
<defs>
<path id="m2958d8f982" d="M 0 3 
C 0.795609 3 1.55874 2.683901 2.12132 2.12132 
C 2.683901 1.55874 3 0.795609 3 0 
C 3 -0.795609 2.683901 -1.55874 2.12132 -2.12132 
C 1.55874 -2.683901 0.795609 -3 0 -3 
C -0.795609 -3 -1.55874 -2.683901 -2.12132 -2.12132 
C -2.683901 -1.55874 -3 -0.795609 -3 0 
C -3 0.795609 -2.683901 1.55874 -2.12132 2.12132 
C -1.55874 2.683901 -0.795609 3 0 3 
z
" style="stroke: #d0473d"/>
</defs>
<g clip-path="url(#p9944d8ce5a)">
<use href="#m2958d8f982" x="251.32537" y="136.848" style="fill: #d0473d; stroke: #d0473d"/>
</g>
</g>
<g id="line2d_34">
<path d="M 59.556822 85.44 
L 84.017096 82.944 
L 110.434192 84.48 
L 134.894466 86.4 
L 161.311562 87.84 
L 204.361644 92.16 
L 251.32537 87.84 
L 297.310685 90.72 
L 341.339178 91.728 
" clip-path="url(#p9944d8ce5a)" style="fill: none; stroke: #cc403a; stroke-width: 1.5; stroke-linecap: square"/>
</g>
<g id="line2d_35">
<path d="M 59.556822 85.44 
L 84.017096 84.48 
L 110.434192 86.4 
L 134.894466 89.76 
L 161.311562 96.456 
L 204.361644 104.832 
L 251.32537 111.48 
L 297.310685 122.256 
L 341.339178 131.568 
" clip-path="url(#p9944d8ce5a)" style="fill: none; stroke: #cb3e38; stroke-width: 1.5; stroke-linecap: square"/>
</g>
<g id="line2d_36">
<path d="M 59.556822 85.92 
L 84.017096 84.72 
L 110.434192 86.88 
L 134.894466 90.72 
L 161.311562 97.5 
L 204.361644 112.224 
L 251.32537 120.072 
L 297.310685 129 
L 341.339178 140.256 
" clip-path="url(#p9944d8ce5a)" style="fill: none; stroke: #cb3e38; stroke-width: 1.5; stroke-linecap: square"/>
</g>
<g id="line2d_37">
<path d="M 59.556822 85.68 
L 84.017096 84.24 
L 110.434192 89.28 
L 134.894466 99.12 
L 161.311562 113.28 
L 204.361644 137.52 
L 251.32537 148.392 
L 297.310685 181.728 
" clip-path="url(#p9944d8ce5a)" style="fill: none; stroke: #cb3e38; stroke-width: 1.5; stroke-linecap: square"/>
</g>
<g id="line2d_38">
<defs>
<path id="m3440441171" d="M 0 3 
C 0.795609 3 1.55874 2.683901 2.12132 2.12132 
C 2.683901 1.55874 3 0.795609 3 0 
C 3 -0.795609 2.683901 -1.55874 2.12132 -2.12132 
C 1.55874 -2.683901 0.795609 -3 0 -3 
C -0.795609 -3 -1.55874 -2.683901 -2.12132 -2.12132 
C -2.683901 -1.55874 -3 -0.795609 -3 0 
C -3 0.795609 -2.683901 1.55874 -2.12132 2.12132 
C -1.55874 2.683901 -0.795609 3 0 3 
z
" style="stroke: #cb3e38"/>
</defs>
<g clip-path="url(#p9944d8ce5a)">
<use href="#m3440441171" x="297.310685" y="181.728" style="fill: #cb3e38; stroke: #cb3e38"/>
</g>
</g>
<g id="line2d_39">
<path d="M 59.556822 85.92 
L 84.017096 84.72 
L 110.434192 84.72 
L 134.894466 84.144 
L 161.311562 87.84 
L 204.361644 90.48 
L 251.32537 88.92 
L 297.310685 90.96 
L 341.339178 91.92 
" clip-path="url(#p9944d8ce5a)" style="fill: none; stroke: #ca3b37; stroke-width: 1.5; stroke-linecap: square"/>
</g>
<g id="line2d_40">
<path d="M 59.556822 85.68 
L 84.017096 84.48 
L 110.434192 84.384 
L 134.894466 83.7 
L 161.311562 88.8 
L 204.361644 93.552 
L 251.32537 98.64 
L 297.310685 111.6 
L 341.339178 111.576 
" clip-path="url(#p9944d8ce5a)" style="fill: none; stroke: #ca3b37; stroke-width: 1.5; stroke-linecap: square"/>
</g>
<g id="line2d_41">
<path d="M 59.556822 85.68 
L 84.017096 84.72 
L 110.434192 86.64 
L 134.894466 90.48 
L 161.311562 97.056 
L 204.361644 108.408 
L 251.32537 116.16 
L 297.310685 125.184 
L 341.339178 136.032 
" clip-path="url(#p9944d8ce5a)" style="fill: none; stroke: #c83836; stroke-width: 1.5; stroke-linecap: square"/>
</g>
<g id="line2d_42">
<path d="M 59.556822 85.92 
L 84.017096 84.48 
L 110.434192 89.52 
L 134.894466 99.36 
L 161.311562 114.24 
L 204.361644 135.048 
L 251.32537 156.12 
L 297.310685 185.784 
" clip-path="url(#p9944d8ce5a)" style="fill: none; stroke: #c32e31; stroke-width: 1.5; stroke-linecap: square"/>
</g>
<g id="line2d_43">
<defs>
<path id="m3167a5ae8c" d="M 0 3 
C 0.795609 3 1.55874 2.683901 2.12132 2.12132 
C 2.683901 1.55874 3 0.795609 3 0 
C 3 -0.795609 2.683901 -1.55874 2.12132 -2.12132 
C 1.55874 -2.683901 0.795609 -3 0 -3 
C -0.795609 -3 -1.55874 -2.683901 -2.12132 -2.12132 
C -2.683901 -1.55874 -3 -0.795609 -3 0 
C -3 0.795609 -2.683901 1.55874 -2.12132 2.12132 
C -1.55874 2.683901 -0.795609 3 0 3 
z
" style="stroke: #c32e31"/>
</defs>
<g clip-path="url(#p9944d8ce5a)">
<use href="#m3167a5ae8c" x="297.310685" y="185.784" style="fill: #c32e31; stroke: #c32e31"/>
</g>
</g>
<g id="line2d_44">
<path d="M 59.556822 85.68 
L 84.017096 81.816 
L 110.434192 86.28 
L 134.894466 86.88 
L 161.311562 87.84 
L 204.361644 91.344 
L 251.32537 92.256 
L 297.310685 91.8 
L 341.339178 92.256 
" clip-path="url(#p9944d8ce5a)" style="fill: none; stroke: #c0282f; stroke-width: 1.5; stroke-linecap: square"/>
</g>
<g id="line2d_45">
<path d="M 59.556822 86.4 
L 84.017096 85.2 
L 110.434192 87.84 
L 134.894466 94.8 
L 161.311562 108.96 
L 204.361644 124.32 
L 251.32537 150.528 
L 297.310685 171.168 
" clip-path="url(#p9944d8ce5a)" style="fill: none; stroke: #c0282f; stroke-width: 1.5; stroke-linecap: square"/>
</g>
<g id="line2d_46">
<defs>
<path id="mb7ee9f88b8" d="M 0 3 
C 0.795609 3 1.55874 2.683901 2.12132 2.12132 
C 2.683901 1.55874 3 0.795609 3 0 
C 3 -0.795609 2.683901 -1.55874 2.12132 -2.12132 
C 1.55874 -2.683901 0.795609 -3 0 -3 
C -0.795609 -3 -1.55874 -2.683901 -2.12132 -2.12132 
C -2.683901 -1.55874 -3 -0.795609 -3 0 
C -3 0.795609 -2.683901 1.55874 -2.12132 2.12132 
C -1.55874 2.683901 -0.795609 3 0 3 
z
" style="stroke: #c0282f"/>
</defs>
<g clip-path="url(#p9944d8ce5a)">
<use href="#mb7ee9f88b8" x="297.310685" y="171.168" style="fill: #c0282f; stroke: #c0282f"/>
</g>
</g>
<g id="line2d_47">
<path d="M 59.556822 86.16 
L 84.017096 84.24 
L 110.434192 89.64 
L 134.894466 99.6 
L 161.311562 115.2 
L 204.361644 139.44 
L 251.32537 158.448 
L 297.310685 188.52 
L 341.339178 201.528 
" clip-path="url(#p9944d8ce5a)" style="fill: none; stroke: #bd1f2d; stroke-width: 1.5; stroke-linecap: square"/>
</g>
<g id="line2d_48">
<path d="M 59.556822 85.2 
L 84.017096 84.48 
L 110.434192 86.4 
L 134.894466 87.12 
L 161.311562 88.32 
L 204.361644 92.328 
L 251.32537 97.68 
L 297.310685 99.96 
L 341.339178 103.5 
" clip-path="url(#p9944d8ce5a)" style="fill: none; stroke: #bb1b2c; stroke-width: 1.5; stroke-linecap: square"/>
</g>
<g id="line2d_49">
<path d="M 59.556822 86.4 
L 84.017096 86.64 
L 110.434192 86.88 
L 134.894466 89.64 
L 161.311562 95.544 
L 204.361644 98.736 
L 251.32537 101.88 
L 297.310685 95.88 
L 341.339178 114.744 
" clip-path="url(#p9944d8ce5a)" style="fill: none; stroke: #bb1b2c; stroke-width: 1.5; stroke-linecap: square"/>
</g>
<g id="line2d_50">
<path d="M 59.556822 87.6 
L 84.017096 87.36 
L 110.434192 87.6 
L 134.894466 92.4 
L 161.311562 100.272 
L 204.361644 116.592 
L 251.32537 128.184 
L 297.310685 141.6 
L 341.339178 150.456 
" clip-path="url(#p9944d8ce5a)" style="fill: none; stroke: #b8122a; stroke-width: 1.5; stroke-linecap: square"/>
</g>
<g id="text_21"><title>Rv0522 - gabP</title><g transform="translate(0.12 0.12) translate(151.51425 35.472) scale(0.12 -0.12)">
<defs>
<path id="DejaVuSans-Bold-76" d="M 97 3500 
L 1216 3500 
L 2088 1081 
L 2956 3500 
L 4078 3500 
L 2700 0 
L 1472 0 
L 97 3500 
z
" transform="scale(0.015625)"/>
<path id="DejaVuSans-Bold-30" d="M 2944 2338 
Q 2944 3213 2780 3570 
Q 2616 3928 2228 3928 
Q 1841 3928 1675 3570 
Q 1509 3213 1509 2338 
Q 1509 1453 1675 1090 
Q 1841 728 2228 728 
Q 2613 728 2778 1090 
Q 2944 1453 2944 2338 
z
M 4147 2328 
Q 4147 1169 3647 539 
Q 3147 -91 2228 -91 
Q 1306 -91 806 539 
Q 306 1169 306 2328 
Q 306 3491 806 4120 
Q 1306 4750 2228 4750 
Q 3147 4750 3647 4120 
Q 4147 3491 4147 2328 
z
" transform="scale(0.015625)"/>
<path id="DejaVuSans-Bold-35" d="M 678 4666 
L 3669 4666 
L 3669 3781 
L 1638 3781 
L 1638 3059 
Q 1775 3097 1914 3117 
Q 2053 3138 2203 3138 
Q 3056 3138 3531 2711 
Q 4006 2284 4006 1522 
Q 4006 766 3489 337 
Q 2972 -91 2053 -91 
Q 1656 -91 1267 -14 
Q 878 63 494 219 
L 494 1166 
Q 875 947 1217 837 
Q 1559 728 1863 728 
Q 2300 728 2551 942 
Q 2803 1156 2803 1522 
Q 2803 1891 2551 2103 
Q 2300 2316 1863 2316 
Q 1603 2316 1309 2248 
Q 1016 2181 678 2041 
L 678 4666 
z
" transform="scale(0.015625)"/>
<path id="DejaVuSans-Bold-62" d="M 2400 722 
Q 2759 722 2948 984 
Q 3138 1247 3138 1747 
Q 3138 2247 2948 2509 
Q 2759 2772 2400 2772 
Q 2041 2772 1848 2508 
Q 1656 2244 1656 1747 
Q 1656 1250 1848 986 
Q 2041 722 2400 722 
z
M 1656 2988 
Q 1888 3294 2169 3439 
Q 2450 3584 2816 3584 
Q 3463 3584 3878 3070 
Q 4294 2556 4294 1747 
Q 4294 938 3878 423 
Q 3463 -91 2816 -91 
Q 2450 -91 2169 54 
Q 1888 200 1656 506 
L 1656 0 
L 538 0 
L 538 4863 
L 1656 4863 
L 1656 2988 
z
" transform="scale(0.015625)"/>
<path id="DejaVuSans-Bold-50" d="M 588 4666 
L 2584 4666 
Q 3475 4666 3951 4270 
Q 4428 3875 4428 3144 
Q 4428 2409 3951 2014 
Q 3475 1619 2584 1619 
L 1791 1619 
L 1791 0 
L 588 0 
L 588 4666 
z
M 1791 3794 
L 1791 2491 
L 2456 2491 
Q 2806 2491 2997 2661 
Q 3188 2831 3188 3144 
Q 3188 3456 2997 3625 
Q 2806 3794 2456 3794 
L 1791 3794 
z
" transform="scale(0.015625)"/>
</defs>
<use href="#DejaVuSans-Bold-52"/>
<use href="#DejaVuSans-Bold-76" transform="translate(77.001953 0)"/>
<use href="#DejaVuSans-Bold-30" transform="translate(142.1875 0)"/>
<use href="#DejaVuSans-Bold-35" transform="translate(211.767578 0)"/>
<use href="#DejaVuSans-Bold-32" transform="translate(281.347656 0)"/>
<use href="#DejaVuSans-Bold-32" transform="translate(350.927734 0)"/>
<use href="#DejaVuSans-Bold-20" transform="translate(420.507812 0)"/>
<use href="#DejaVuSans-Bold-2d" transform="translate(455.322266 0)"/>
<use href="#DejaVuSans-Bold-20" transform="translate(496.826172 0)"/>
<use href="#DejaVuSans-Bold-67" transform="translate(531.640625 0)"/>
<use href="#DejaVuSans-Bold-61" transform="translate(603.222656 0)"/>
<use href="#DejaVuSans-Bold-62" transform="translate(670.703125 0)"/>
<use href="#DejaVuSans-Bold-50" transform="translate(742.285156 0)"/>
</g>
</g>
</g>
<g id="axes_2">
<g id="patch_7">
<path d="M 361.152 307.584 
L 374.4576 307.584 
L 374.4576 41.472 
L 361.152 41.472 
z
" style="fill: #ffffff"/>
</g>
<g id="cbar_solids" shape-rendering="crispEdges"><rect x="361.152" y="306.5445" width="13.306" height="1.0395" fill="#3b4cc0"/><rect x="361.152" y="305.5050" width="13.306" height="1.0603" fill="#3c4ec2"/><rect x="361.152" y="304.4655" width="13.306" height="1.0603" fill="#3d50c3"/><rect x="361.152" y="303.4260" width="13.306" height="1.0603" fill="#3e51c5"/><rect x="361.152" y="302.3865" width="13.306" height="1.0603" fill="#3f53c6"/><rect x="361.152" y="301.3470" width="13.306" height="1.0603" fill="#4055c8"/><rect x="361.152" y="300.3075" width="13.306" height="1.0603" fill="#4257c9"/><rect x="361.152" y="299.2680" width="13.306" height="1.0603" fill="#4358cb"/><rect x="361.152" y="298.2285" width="13.306" height="1.0603" fill="#445acc"/><rect x="361.152" y="297.1890" width="13.306" height="1.0603" fill="#455cce"/><rect x="361.152" y="296.1495" width="13.306" height="1.0603" fill="#465ecf"/><rect x="361.152" y="295.1100" width="13.306" height="1.0603" fill="#485fd1"/><rect x="361.152" y="294.0705" width="13.306" height="1.0603" fill="#4961d2"/><rect x="361.152" y="293.0310" width="13.306" height="1.0603" fill="#4a63d3"/><rect x="361.152" y="291.9915" width="13.306" height="1.0603" fill="#4b64d5"/><rect x="361.152" y="290.9520" width="13.306" height="1.0603" fill="#4c66d6"/><rect x="361.152" y="289.9125" width="13.306" height="1.0603" fill="#4e68d8"/><rect x="361.152" y="288.8730" width="13.306" height="1.0603" fill="#4f69d9"/><rect x="361.152" y="287.8335" width="13.306" height="1.0603" fill="#506bda"/><rect x="361.152" y="286.7940" width="13.306" height="1.0603" fill="#516ddb"/><rect x="361.152" y="285.7545" width="13.306" height="1.0603" fill="#536edd"/><rect x="361.152" y="284.7150" width="13.306" height="1.0603" fill="#5470de"/><rect x="361.152" y="283.6755" width="13.306" height="1.0603" fill="#5572df"/><rect x="361.152" y="282.6360" width="13.306" height="1.0603" fill="#5673e0"/><rect x="361.152" y="281.5965" width="13.306" height="1.0603" fill="#5875e1"/><rect x="361.152" y="280.5570" width="13.306" height="1.0603" fill="#5977e3"/><rect x="361.152" y="279.5175" width="13.306" height="1.0603" fill="#5a78e4"/><rect x="361.152" y="278.4780" width="13.306" height="1.0603" fill="#5b7ae5"/><rect x="361.152" y="277.4385" width="13.306" height="1.0603" fill="#5d7ce6"/><rect x="361.152" y="276.3990" width="13.306" height="1.0603" fill="#5e7de7"/><rect x="361.152" y="275.3595" width="13.306" height="1.0603" fill="#5f7fe8"/><rect x="361.152" y="274.3200" width="13.306" height="1.0603" fill="#6180e9"/><rect x="361.152" y="273.2805" width="13.306" height="1.0603" fill="#6282ea"/><rect x="361.152" y="272.2410" width="13.306" height="1.0603" fill="#6384eb"/><rect x="361.152" y="271.2015" width="13.306" height="1.0603" fill="#6485ec"/><rect x="361.152" y="270.1620" width="13.306" height="1.0603" fill="#6687ed"/><rect x="361.152" y="269.1225" width="13.306" height="1.0603" fill="#6788ee"/><rect x="361.152" y="268.0830" width="13.306" height="1.0603" fill="#688aef"/><rect x="361.152" y="267.0435" width="13.306" height="1.0603" fill="#6a8bef"/><rect x="361.152" y="266.0040" width="13.306" height="1.0603" fill="#6b8df0"/><rect x="361.152" y="264.9645" width="13.306" height="1.0603" fill="#6c8ff1"/><rect x="361.152" y="263.9250" width="13.306" height="1.0603" fill="#6e90f2"/><rect x="361.152" y="262.8855" width="13.306" height="1.0603" fill="#6f92f3"/><rect x="361.152" y="261.8460" width="13.306" height="1.0603" fill="#7093f3"/><rect x="361.152" y="260.8065" width="13.306" height="1.0603" fill="#7295f4"/><rect x="361.152" y="259.7670" width="13.306" height="1.0603" fill="#7396f5"/><rect x="361.152" y="258.7275" width="13.306" height="1.0603" fill="#7597f6"/><rect x="361.152" y="257.6880" width="13.306" height="1.0603" fill="#7699f6"/><rect x="361.152" y="256.6485" width="13.306" height="1.0603" fill="#779af7"/><rect x="361.152" y="255.6090" width="13.306" height="1.0603" fill="#799cf8"/><rect x="361.152" y="254.5695" width="13.306" height="1.0603" fill="#7a9df8"/><rect x="361.152" y="253.5300" width="13.306" height="1.0603" fill="#7b9ff9"/><rect x="361.152" y="252.4905" width="13.306" height="1.0603" fill="#7da0f9"/><rect x="361.152" y="251.4510" width="13.306" height="1.0603" fill="#7ea1fa"/><rect x="361.152" y="250.4115" width="13.306" height="1.0603" fill="#80a3fa"/><rect x="361.152" y="249.3720" width="13.306" height="1.0603" fill="#81a4fb"/><rect x="361.152" y="248.3325" width="13.306" height="1.0603" fill="#82a6fb"/><rect x="361.152" y="247.2930" width="13.306" height="1.0603" fill="#84a7fc"/><rect x="361.152" y="246.2535" width="13.306" height="1.0603" fill="#85a8fc"/><rect x="361.152" y="245.2140" width="13.306" height="1.0603" fill="#86a9fc"/><rect x="361.152" y="244.1745" width="13.306" height="1.0603" fill="#88abfd"/><rect x="361.152" y="243.1350" width="13.306" height="1.0603" fill="#89acfd"/><rect x="361.152" y="242.0955" width="13.306" height="1.0603" fill="#8badfd"/><rect x="361.152" y="241.0560" width="13.306" height="1.0603" fill="#8caffe"/><rect x="361.152" y="240.0165" width="13.306" height="1.0603" fill="#8db0fe"/><rect x="361.152" y="238.9770" width="13.306" height="1.0603" fill="#8fb1fe"/><rect x="361.152" y="237.9375" width="13.306" height="1.0603" fill="#90b2fe"/><rect x="361.152" y="236.8980" width="13.306" height="1.0603" fill="#92b4fe"/><rect x="361.152" y="235.8585" width="13.306" height="1.0603" fill="#93b5fe"/><rect x="361.152" y="234.8190" width="13.306" height="1.0603" fill="#94b6ff"/><rect x="361.152" y="233.7795" width="13.306" height="1.0603" fill="#96b7ff"/><rect x="361.152" y="232.7400" width="13.306" height="1.0603" fill="#97b8ff"/><rect x="361.152" y="231.7005" width="13.306" height="1.0603" fill="#98b9ff"/><rect x="361.152" y="230.6610" width="13.306" height="1.0603" fill="#9abbff"/><rect x="361.152" y="229.6215" width="13.306" height="1.0603" fill="#9bbcff"/><rect x="361.152" y="228.5820" width="13.306" height="1.0603" fill="#9dbdff"/><rect x="361.152" y="227.5425" width="13.306" height="1.0603" fill="#9ebeff"/><rect x="361.152" y="226.5030" width="13.306" height="1.0603" fill="#9fbfff"/><rect x="361.152" y="225.4635" width="13.306" height="1.0603" fill="#a1c0ff"/><rect x="361.152" y="224.4240" width="13.306" height="1.0603" fill="#a2c1ff"/><rect x="361.152" y="223.3845" width="13.306" height="1.0603" fill="#a3c2fe"/><rect x="361.152" y="222.3450" width="13.306" height="1.0603" fill="#a5c3fe"/><rect x="361.152" y="221.3055" width="13.306" height="1.0603" fill="#a6c4fe"/><rect x="361.152" y="220.2660" width="13.306" height="1.0603" fill="#a7c5fe"/><rect x="361.152" y="219.2265" width="13.306" height="1.0603" fill="#a9c6fd"/><rect x="361.152" y="218.1870" width="13.306" height="1.0603" fill="#aac7fd"/><rect x="361.152" y="217.1475" width="13.306" height="1.0603" fill="#abc8fd"/><rect x="361.152" y="216.1080" width="13.306" height="1.0603" fill="#adc9fd"/><rect x="361.152" y="215.0685" width="13.306" height="1.0603" fill="#aec9fc"/><rect x="361.152" y="214.0290" width="13.306" height="1.0603" fill="#afcafc"/><rect x="361.152" y="212.9895" width="13.306" height="1.0603" fill="#b1cbfc"/><rect x="361.152" y="211.9500" width="13.306" height="1.0603" fill="#b2ccfb"/><rect x="361.152" y="210.9105" width="13.306" height="1.0603" fill="#b3cdfb"/><rect x="361.152" y="209.8710" width="13.306" height="1.0603" fill="#b5cdfa"/><rect x="361.152" y="208.8315" width="13.306" height="1.0603" fill="#b6cefa"/><rect x="361.152" y="207.7920" width="13.306" height="1.0603" fill="#b7cff9"/><rect x="361.152" y="206.7525" width="13.306" height="1.0603" fill="#b9d0f9"/><rect x="361.152" y="205.7130" width="13.306" height="1.0603" fill="#bad0f8"/><rect x="361.152" y="204.6735" width="13.306" height="1.0603" fill="#bbd1f8"/><rect x="361.152" y="203.6340" width="13.306" height="1.0603" fill="#bcd2f7"/><rect x="361.152" y="202.5945" width="13.306" height="1.0603" fill="#bed2f6"/><rect x="361.152" y="201.5550" width="13.306" height="1.0603" fill="#bfd3f6"/><rect x="361.152" y="200.5155" width="13.306" height="1.0603" fill="#c0d4f5"/><rect x="361.152" y="199.4760" width="13.306" height="1.0603" fill="#c1d4f4"/><rect x="361.152" y="198.4365" width="13.306" height="1.0603" fill="#c3d5f4"/><rect x="361.152" y="197.3970" width="13.306" height="1.0603" fill="#c4d5f3"/><rect x="361.152" y="196.3575" width="13.306" height="1.0603" fill="#c5d6f2"/><rect x="361.152" y="195.3180" width="13.306" height="1.0603" fill="#c6d6f1"/><rect x="361.152" y="194.2785" width="13.306" height="1.0603" fill="#c7d7f0"/><rect x="361.152" y="193.2390" width="13.306" height="1.0603" fill="#c9d7f0"/><rect x="361.152" y="192.1995" width="13.306" height="1.0603" fill="#cad8ef"/><rect x="361.152" y="191.1600" width="13.306" height="1.0603" fill="#cbd8ee"/><rect x="361.152" y="190.1205" width="13.306" height="1.0603" fill="#ccd9ed"/><rect x="361.152" y="189.0810" width="13.306" height="1.0603" fill="#cdd9ec"/><rect x="361.152" y="188.0415" width="13.306" height="1.0603" fill="#cedaeb"/><rect x="361.152" y="187.0020" width="13.306" height="1.0603" fill="#cfdaea"/><rect x="361.152" y="185.9625" width="13.306" height="1.0603" fill="#d1dae9"/><rect x="361.152" y="184.9230" width="13.306" height="1.0603" fill="#d2dbe8"/><rect x="361.152" y="183.8835" width="13.306" height="1.0603" fill="#d3dbe7"/><rect x="361.152" y="182.8440" width="13.306" height="1.0603" fill="#d4dbe6"/><rect x="361.152" y="181.8045" width="13.306" height="1.0603" fill="#d5dbe5"/><rect x="361.152" y="180.7650" width="13.306" height="1.0603" fill="#d6dce4"/><rect x="361.152" y="179.7255" width="13.306" height="1.0603" fill="#d7dce3"/><rect x="361.152" y="178.6860" width="13.306" height="1.0603" fill="#d8dce2"/><rect x="361.152" y="177.6465" width="13.306" height="1.0603" fill="#d9dce1"/><rect x="361.152" y="176.6070" width="13.306" height="1.0603" fill="#dadce0"/><rect x="361.152" y="175.5675" width="13.306" height="1.0603" fill="#dbdcde"/><rect x="361.152" y="174.5280" width="13.306" height="1.0603" fill="#dcdddd"/><rect x="361.152" y="173.4885" width="13.306" height="1.0603" fill="#dddcdc"/><rect x="361.152" y="172.4490" width="13.306" height="1.0603" fill="#dedcdb"/><rect x="361.152" y="171.4095" width="13.306" height="1.0603" fill="#dfdbd9"/><rect x="361.152" y="170.3700" width="13.306" height="1.0603" fill="#e0dbd8"/><rect x="361.152" y="169.3305" width="13.306" height="1.0603" fill="#e1dad6"/><rect x="361.152" y="168.2910" width="13.306" height="1.0603" fill="#e2dad5"/><rect x="361.152" y="167.2515" width="13.306" height="1.0603" fill="#e3d9d3"/><rect x="361.152" y="166.2120" width="13.306" height="1.0603" fill="#e4d9d2"/><rect x="361.152" y="165.1725" width="13.306" height="1.0603" fill="#e5d8d1"/><rect x="361.152" y="164.1330" width="13.306" height="1.0603" fill="#e6d7cf"/><rect x="361.152" y="163.0935" width="13.306" height="1.0603" fill="#e7d7ce"/><rect x="361.152" y="162.0540" width="13.306" height="1.0603" fill="#e8d6cc"/><rect x="361.152" y="161.0145" width="13.306" height="1.0603" fill="#e9d5cb"/><rect x="361.152" y="159.9750" width="13.306" height="1.0603" fill="#ead5c9"/><rect x="361.152" y="158.9355" width="13.306" height="1.0603" fill="#ead4c8"/><rect x="361.152" y="157.8960" width="13.306" height="1.0603" fill="#ebd3c6"/><rect x="361.152" y="156.8565" width="13.306" height="1.0603" fill="#ecd3c5"/><rect x="361.152" y="155.8170" width="13.306" height="1.0603" fill="#edd2c3"/><rect x="361.152" y="154.7775" width="13.306" height="1.0603" fill="#edd1c2"/><rect x="361.152" y="153.7380" width="13.306" height="1.0603" fill="#eed0c0"/><rect x="361.152" y="152.6985" width="13.306" height="1.0603" fill="#efcfbf"/><rect x="361.152" y="151.6590" width="13.306" height="1.0603" fill="#efcebd"/><rect x="361.152" y="150.6195" width="13.306" height="1.0603" fill="#f0cdbb"/><rect x="361.152" y="149.5800" width="13.306" height="1.0603" fill="#f1cdba"/><rect x="361.152" y="148.5405" width="13.306" height="1.0603" fill="#f1ccb8"/><rect x="361.152" y="147.5010" width="13.306" height="1.0603" fill="#f2cbb7"/><rect x="361.152" y="146.4615" width="13.306" height="1.0603" fill="#f2cab5"/><rect x="361.152" y="145.4220" width="13.306" height="1.0603" fill="#f2c9b4"/><rect x="361.152" y="144.3825" width="13.306" height="1.0603" fill="#f3c8b2"/><rect x="361.152" y="143.3430" width="13.306" height="1.0603" fill="#f3c7b1"/><rect x="361.152" y="142.3035" width="13.306" height="1.0603" fill="#f4c6af"/><rect x="361.152" y="141.2640" width="13.306" height="1.0603" fill="#f4c5ad"/><rect x="361.152" y="140.2245" width="13.306" height="1.0603" fill="#f5c4ac"/><rect x="361.152" y="139.1850" width="13.306" height="1.0603" fill="#f5c2aa"/><rect x="361.152" y="138.1455" width="13.306" height="1.0603" fill="#f5c1a9"/><rect x="361.152" y="137.1060" width="13.306" height="1.0603" fill="#f5c0a7"/><rect x="361.152" y="136.0665" width="13.306" height="1.0603" fill="#f6bfa6"/><rect x="361.152" y="135.0270" width="13.306" height="1.0603" fill="#f6bea4"/><rect x="361.152" y="133.9875" width="13.306" height="1.0603" fill="#f6bda2"/><rect x="361.152" y="132.9480" width="13.306" height="1.0603" fill="#f7bca1"/><rect x="361.152" y="131.9085" width="13.306" height="1.0603" fill="#f7ba9f"/><rect x="361.152" y="130.8690" width="13.306" height="1.0603" fill="#f7b99e"/><rect x="361.152" y="129.8295" width="13.306" height="1.0603" fill="#f7b89c"/><rect x="361.152" y="128.7900" width="13.306" height="1.0603" fill="#f7b79b"/><rect x="361.152" y="127.7505" width="13.306" height="1.0603" fill="#f7b599"/><rect x="361.152" y="126.7110" width="13.306" height="1.0603" fill="#f7b497"/><rect x="361.152" y="125.6715" width="13.306" height="1.0603" fill="#f7b396"/><rect x="361.152" y="124.6320" width="13.306" height="1.0603" fill="#f7b194"/><rect x="361.152" y="123.5925" width="13.306" height="1.0603" fill="#f7b093"/><rect x="361.152" y="122.5530" width="13.306" height="1.0603" fill="#f7af91"/><rect x="361.152" y="121.5135" width="13.306" height="1.0603" fill="#f7ad90"/><rect x="361.152" y="120.4740" width="13.306" height="1.0603" fill="#f7ac8e"/><rect x="361.152" y="119.4345" width="13.306" height="1.0603" fill="#f7aa8c"/><rect x="361.152" y="118.3950" width="13.306" height="1.0603" fill="#f7a98b"/><rect x="361.152" y="117.3555" width="13.306" height="1.0603" fill="#f7a889"/><rect x="361.152" y="116.3160" width="13.306" height="1.0603" fill="#f7a688"/><rect x="361.152" y="115.2765" width="13.306" height="1.0603" fill="#f6a586"/><rect x="361.152" y="114.2370" width="13.306" height="1.0603" fill="#f6a385"/><rect x="361.152" y="113.1975" width="13.306" height="1.0603" fill="#f6a283"/><rect x="361.152" y="112.1580" width="13.306" height="1.0603" fill="#f5a081"/><rect x="361.152" y="111.1185" width="13.306" height="1.0603" fill="#f59f80"/><rect x="361.152" y="110.0790" width="13.306" height="1.0603" fill="#f59d7e"/><rect x="361.152" y="109.0395" width="13.306" height="1.0603" fill="#f59c7d"/><rect x="361.152" y="108.0000" width="13.306" height="1.0603" fill="#f49a7b"/><rect x="361.152" y="106.9605" width="13.306" height="1.0603" fill="#f4987a"/><rect x="361.152" y="105.9210" width="13.306" height="1.0603" fill="#f39778"/><rect x="361.152" y="104.8815" width="13.306" height="1.0603" fill="#f39577"/><rect x="361.152" y="103.8420" width="13.306" height="1.0603" fill="#f39475"/><rect x="361.152" y="102.8025" width="13.306" height="1.0603" fill="#f29274"/><rect x="361.152" y="101.7630" width="13.306" height="1.0603" fill="#f29072"/><rect x="361.152" y="100.7235" width="13.306" height="1.0603" fill="#f18f71"/><rect x="361.152" y="99.6840" width="13.306" height="1.0603" fill="#f18d6f"/><rect x="361.152" y="98.6445" width="13.306" height="1.0603" fill="#f08b6e"/><rect x="361.152" y="97.6050" width="13.306" height="1.0603" fill="#f08a6c"/><rect x="361.152" y="96.5655" width="13.306" height="1.0603" fill="#ef886b"/><rect x="361.152" y="95.5260" width="13.306" height="1.0603" fill="#ee8669"/><rect x="361.152" y="94.4865" width="13.306" height="1.0603" fill="#ee8468"/><rect x="361.152" y="93.4470" width="13.306" height="1.0603" fill="#ed8366"/><rect x="361.152" y="92.4075" width="13.306" height="1.0603" fill="#ec8165"/><rect x="361.152" y="91.3680" width="13.306" height="1.0603" fill="#ec7f63"/><rect x="361.152" y="90.3285" width="13.306" height="1.0603" fill="#eb7d62"/><rect x="361.152" y="89.2890" width="13.306" height="1.0603" fill="#ea7b60"/><rect x="361.152" y="88.2495" width="13.306" height="1.0603" fill="#e97a5f"/><rect x="361.152" y="87.2100" width="13.306" height="1.0603" fill="#e9785d"/><rect x="361.152" y="86.1705" width="13.306" height="1.0603" fill="#e8765c"/><rect x="361.152" y="85.1310" width="13.306" height="1.0603" fill="#e7745b"/><rect x="361.152" y="84.0915" width="13.306" height="1.0603" fill="#e67259"/><rect x="361.152" y="83.0520" width="13.306" height="1.0603" fill="#e57058"/><rect x="361.152" y="82.0125" width="13.306" height="1.0603" fill="#e46e56"/><rect x="361.152" y="80.9730" width="13.306" height="1.0603" fill="#e36c55"/><rect x="361.152" y="79.9335" width="13.306" height="1.0603" fill="#e36b54"/><rect x="361.152" y="78.8940" width="13.306" height="1.0603" fill="#e26952"/><rect x="361.152" y="77.8545" width="13.306" height="1.0603" fill="#e16751"/><rect x="361.152" y="76.8150" width="13.306" height="1.0603" fill="#e0654f"/><rect x="361.152" y="75.7755" width="13.306" height="1.0603" fill="#df634e"/><rect x="361.152" y="74.7360" width="13.306" height="1.0603" fill="#de614d"/><rect x="361.152" y="73.6965" width="13.306" height="1.0603" fill="#dd5f4b"/><rect x="361.152" y="72.6570" width="13.306" height="1.0603" fill="#dc5d4a"/><rect x="361.152" y="71.6175" width="13.306" height="1.0603" fill="#da5a49"/><rect x="361.152" y="70.5780" width="13.306" height="1.0603" fill="#d95847"/><rect x="361.152" y="69.5385" width="13.306" height="1.0603" fill="#d85646"/><rect x="361.152" y="68.4990" width="13.306" height="1.0603" fill="#d75445"/><rect x="361.152" y="67.4595" width="13.306" height="1.0603" fill="#d65244"/><rect x="361.152" y="66.4200" width="13.306" height="1.0603" fill="#d55042"/><rect x="361.152" y="65.3805" width="13.306" height="1.0603" fill="#d44e41"/><rect x="361.152" y="64.3410" width="13.306" height="1.0603" fill="#d24b40"/><rect x="361.152" y="63.3015" width="13.306" height="1.0603" fill="#d1493f"/><rect x="361.152" y="62.2620" width="13.306" height="1.0603" fill="#d0473d"/><rect x="361.152" y="61.2225" width="13.306" height="1.0603" fill="#cf453c"/><rect x="361.152" y="60.1830" width="13.306" height="1.0603" fill="#cd423b"/><rect x="361.152" y="59.1435" width="13.306" height="1.0603" fill="#cc403a"/><rect x="361.152" y="58.1040" width="13.306" height="1.0603" fill="#cb3e38"/><rect x="361.152" y="57.0645" width="13.306" height="1.0603" fill="#ca3b37"/><rect x="361.152" y="56.0250" width="13.306" height="1.0603" fill="#c83836"/><rect x="361.152" y="54.9855" width="13.306" height="1.0603" fill="#c73635"/><rect x="361.152" y="53.9460" width="13.306" height="1.0603" fill="#c53334"/><rect x="361.152" y="52.9065" width="13.306" height="1.0603" fill="#c43032"/><rect x="361.152" y="51.8670" width="13.306" height="1.0603" fill="#c32e31"/><rect x="361.152" y="50.8275" width="13.306" height="1.0603" fill="#c12b30"/><rect x="361.152" y="49.7880" width="13.306" height="1.0603" fill="#c0282f"/><rect x="361.152" y="48.7485" width="13.306" height="1.0603" fill="#be242e"/><rect x="361.152" y="47.7090" width="13.306" height="1.0603" fill="#bd1f2d"/><rect x="361.152" y="46.6695" width="13.306" height="1.0603" fill="#bb1b2c"/><rect x="361.152" y="45.6300" width="13.306" height="1.0603" fill="#ba162b"/><rect x="361.152" y="44.5905" width="13.306" height="1.0603" fill="#b8122a"/><rect x="361.152" y="43.5510" width="13.306" height="1.0603" fill="#b70d28"/><rect x="361.152" y="42.5115" width="13.306" height="1.0603" fill="#b50927"/><rect x="361.152" y="41.4720" width="13.306" height="1.0603" fill="#b40426"/></g><g id="matplotlib.axis_3"/>
<g id="matplotlib.axis_4">
<g id="ytick_10">
<g id="text_22"><title>0.0</title><g transform="translate(0 -0.12) translate(381.4576 311.383219) scale(0.1 -0.1)">
<use href="#DejaVuSans-30"/>
<use href="#DejaVuSans-2e" transform="translate(63.623047 0)"/>
<use href="#DejaVuSans-30" transform="translate(95.410156 0)"/>
</g>
</g>
</g>
<g id="ytick_11">
<g id="text_23"><title>0.2</title><g transform="translate(0 -0.12) translate(381.4576 258.160819) scale(0.1 -0.1)">
<use href="#DejaVuSans-30"/>
<use href="#DejaVuSans-2e" transform="translate(63.623047 0)"/>
<use href="#DejaVuSans-32" transform="translate(95.410156 0)"/>
</g>
</g>
</g>
<g id="ytick_12">
<g id="text_24"><title>0.4</title><g transform="translate(0 -0.12) translate(381.4576 204.938419) scale(0.1 -0.1)">
<use href="#DejaVuSans-30"/>
<use href="#DejaVuSans-2e" transform="translate(63.623047 0)"/>
<use href="#DejaVuSans-34" transform="translate(95.410156 0)"/>
</g>
</g>
</g>
<g id="ytick_13">
<g id="text_25"><title>0.6</title><g transform="translate(0 -0.12) translate(381.4576 151.716019) scale(0.1 -0.1)">
<use href="#DejaVuSans-30"/>
<use href="#DejaVuSans-2e" transform="translate(63.623047 0)"/>
<use href="#DejaVuSans-36" transform="translate(95.410156 0)"/>
</g>
</g>
</g>
<g id="ytick_14">
<g id="text_26"><title>0.8</title><g transform="translate(0 -0.12) translate(381.4576 98.493619) scale(0.1 -0.1)">
<use href="#DejaVuSans-30"/>
<use href="#DejaVuSans-2e" transform="translate(63.623047 0)"/>
<use href="#DejaVuSans-38" transform="translate(95.410156 0)"/>
</g>
</g>
</g>
<g id="ytick_15">
<g id="text_27"><title>1.0</title><g transform="translate(0 -0.12) translate(381.4576 45.271219) scale(0.1 -0.1)">
<use href="#DejaVuSans-31"/>
<use href="#DejaVuSans-2e" transform="translate(63.623047 0)"/>
<use href="#DejaVuSans-30" transform="translate(95.410156 0)"/>
</g>
</g>
</g>
</g>
<g id="LineCollection_1"/>
</g>
</g>
<defs>
<clipPath id="p9944d8ce5a">
<rect x="57.6" y="41.472" width="285.696" height="266.112"/>
</clipPath>
</defs>
<g id="frame" transform="scale(0.24)" fill="none" stroke="#000000" stroke-width="3.3333" stroke-linecap="butt" stroke-linejoin="miter"><rect x="240.5" y="173.5" width="1190" height="1109"/><rect x="1505.5" y="173.5" width="55" height="1109"/><path d="M248.5 1282.5v15M350.5 1282.5v15M460.5 1282.5v15M562.5 1282.5v15M672.5 1282.5v15M852.5 1282.5v15M1047.5 1282.5v15M1239.5 1282.5v15M1422.5 1282.5v15M240.5 234.5h-15M240.5 358.5h-15M240.5 481.5h-15M240.5 604.5h-15M240.5 727.5h-15M240.5 850.5h-15M240.5 974.5h-15M240.5 1097.5h-15M240.5 1220.5h-15M1560.5 1282.5h15M1560.5 1060.5h15M1560.5 838.5h15M1560.5 616.5h15M1560.5 395.5h15M1560.5 173.5h15"/></g></svg>

</body>
</html>
